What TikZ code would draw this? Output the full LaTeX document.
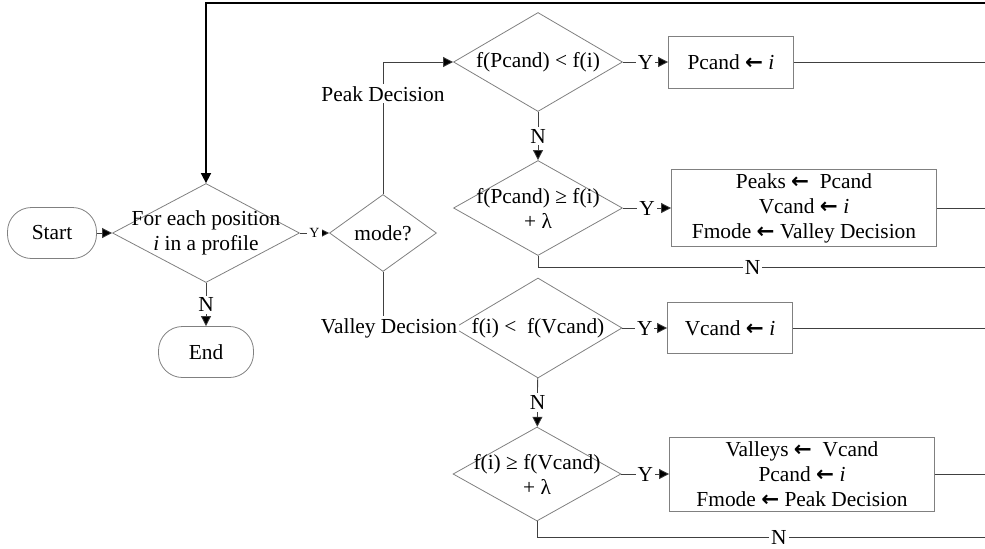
\documentclass[tikz,border=0pt]{standalone}
\usepackage{fontspec}
\setmainfont{Liberation Serif}
\newfontfamily\arrowfont{DejaVu Sans}
\usetikzlibrary{shapes.geometric,arrows.meta,positioning}

\newcommand{\asn}{{\arrowfont\bfseries ←}}

\begin{document}
\begin{tikzpicture}[
    x=0.5pt, y=-0.5pt,
    font=\fontsize{10.7}{12.5}\selectfont,
    term/.style={draw=black!50, rounded corners=12pt, minimum width=44.5pt, minimum height=25.5pt},
    decision/.style={diamond, draw=black!50, inner sep=0pt},
    proc/.style={draw=black!50, align=center, inner sep=2pt},
    arrow/.style={-{Triangle[length=5pt,width=5pt,fill=black]}, draw=black!75},
    wire/.style={draw=black!75},
    tag/.style={fill=white, inner sep=1pt}
  ]
    \useasboundingbox (0,0) rectangle (985,548);

    \node[term] (start) at (52,233) {Start};
    \node[decision, minimum width=93.5pt, minimum height=49.5pt] (loop) at (206,233) {};
    \node[align=center] (loopt) at (loop) {For each position\\\textit{i} in a profile};
    \node[term, minimum width=47.5pt] (end) at (206,352) {End};
    \node[decision, minimum width=53.5pt, minimum height=38.5pt] (mode) at (383,233) {mode?};

    % peak branch
    \node[decision, minimum width=84.5pt, minimum height=49.5pt] (pk1) at (538,62) {};
    \node (pk1t) at (pk1) {f(Pcand) < f(i)};
    \node[proc, minimum width=62.5pt, minimum height=26pt] (pk1b) at (731,62) {Pcand \asn\ \textit{i}};
    \node[decision, minimum width=84.5pt, minimum height=47.5pt] (pk2) at (538,208) {};
    \node[align=center] (pk2t) at (pk2) {f(Pcand) ≥ f(i)\\+ λ};
    \node[proc, minimum width=132.5pt, minimum height=37.5pt] (pk2b) at (804,208)
      {Peaks \asn\ \ Pcand\\Vcand \asn\ \textit{i}\\Fmode \asn\ Valley Decision};

    % valley branch
    \node[decision, minimum width=84pt, minimum height=50pt] (vl1) at (538,328) {};
    \node (vl1t) at (vl1) {f(i) <\ \ f(Vcand)};
    \node[proc, minimum width=62.5pt, minimum height=25.5pt] (vl1b) at (730,328) {Vcand \asn\ \textit{i}};
    \node[decision, minimum width=84pt, minimum height=47pt] (vl2) at (537,474) {};
    \node[align=center] (vl2t) at (vl2) {f(i) ≥ f(Vcand)\\+ λ};
    \node[proc, minimum width=132.5pt, minimum height=37pt] (vl2b) at (802,474)
      {Valleys \asn\ \ Vcand\\Pcand \asn\ \textit{i}\\Fmode \asn\ Peak Decision};

    % loose ends on the right
    \coordinate (back) at (985,3);
    \coordinate (e1) at (985,62);
    \coordinate (e2) at (985,208);
    \coordinate (n2) at (985,267);
    \coordinate (e3) at (985,328);
    \coordinate (e4) at (985,474);
    \coordinate (n4) at (985,537);

    \draw[arrow] (start) -- (loop);
    \draw[arrow] (loop) -- node[tag, font=\scriptsize] {Y} (mode);
    \draw[arrow] (loop) -- node[tag] {N} (end);
    \draw[arrow] (mode.north) |- node[tag, pos=0.38] {Peak Decision} (pk1.west);
    \draw[arrow] (mode.south) |- node[tag, pos=0.5, xshift=3pt] {Valley Decision} (vl1.west);

    \draw[arrow] (pk1) -- node[tag] {Y} (pk1b);
    \draw[arrow] (pk1) -- node[tag] {N} (pk2);
    \draw[arrow] (pk2) -- node[tag] {Y} (pk2b);
    \draw[wire] (pk2.south) |- node[tag, pos=0.74] {N} (n2);
    \draw[wire] (pk1b) -- (e1);
    \draw[wire] (pk2b) -- (e2);

    \draw[arrow] (vl1) -- node[tag] {Y} (vl1b);
    \draw[arrow] (vl1) -- node[tag] {N} (vl2);
    \draw[arrow] (vl2) -- node[tag] {Y} (vl2b);
    \draw[wire] (vl2.south) |- node[tag, pos=0.77] {N} (n4);
    \draw[wire] (vl1b) -- (e3);
    \draw[wire] (vl2b) -- (e4);

    \draw[arrow, draw=black, line width=0.8pt] (back) -| (loop.north);
  \end{tikzpicture}
\end{document}
